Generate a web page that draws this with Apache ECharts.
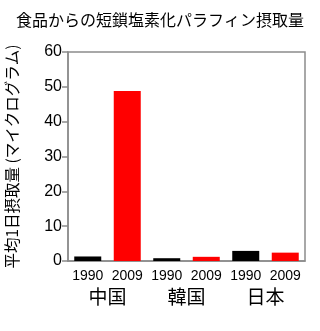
<!DOCTYPE html>
<html><head><meta charset="utf-8">
<script src="https://cdn.jsdelivr.net/npm/echarts@6/dist/echarts.min.js"></script>
<style>html,body{margin:0;padding:0;background:#fff}#c{width:320px;height:331px}</style>
</head><body><div id="c"></div>
<script>
const title = '食品からの短鎖塩素化パラフィン摂取量';
const yName = '平均1日摂取量 (マイクログラム)';
const years = ['1990','2009','1990','2009','1990','2009'];
const countries = ['中国','韓国','日本'];
const values = [1.3, 48.8, 0.8, 1.2, 2.9, 2.4];
const barColors = ['#000000','#ff0000','#000000','#ff0000','#000000','#ff0000'];
const yTicks = [0,10,20,30,40,50,60];

const chart = echarts.init(document.getElementById('c'));
const font = 'Arial, "Liberation Sans", "Noto Sans CJK JP", sans-serif';
chart.setOption({
  animation:false,
  textStyle:{fontFamily:font},
  title:{text:title,left:'center',top:7,textStyle:{fontSize:16,fontWeight:'normal',color:'#000',fontFamily:'"Noto Sans CJK JP", sans-serif'}},
  grid:{left:68,right:15,top:52,bottom:70,containLabel:false,outerBoundsMode:'none',show:true,borderColor:'#8c8c8c',borderWidth:1.5},
  xAxis:[{
    type:'category',data:years,position:'bottom',
    axisLine:{lineStyle:{color:'#8c8c8c',width:1.5}},
    axisTick:{show:false},
    axisLabel:{interval:0,fontSize:14,color:'#000',margin:8,fontFamily:font}
  },{
    type:'category',data:countries,position:'bottom',offset:18,
    axisLine:{show:false},axisTick:{show:false},
    axisLabel:{interval:0,fontSize:19,color:'#000',margin:8,fontFamily:'"Noto Sans CJK JP", sans-serif'}
  }],
  yAxis:{
    type:'value',min:yTicks[0],max:yTicks[yTicks.length-1],interval:10,
    axisLine:{show:true,lineStyle:{color:'#8c8c8c',width:1.5}},
    axisTick:{show:true,length:6,lineStyle:{color:'#8c8c8c',width:1.5}},
    splitLine:{show:false},
    axisLabel:{fontSize:16,color:'#000',margin:6,fontFamily:font},
    name:yName,nameLocation:'middle',nameGap:48,nameRotate:90,
    nameTextStyle:{fontSize:15.5,color:'#000',fontFamily:'"Noto Sans CJK JP", sans-serif'}
  },
  series:[{
    type:'bar',xAxisIndex:0,barWidth:27,
    data:values.map((v,i)=>({value:v,itemStyle:{color:barColors[i]}}))
  }]
});
</script></body></html>
